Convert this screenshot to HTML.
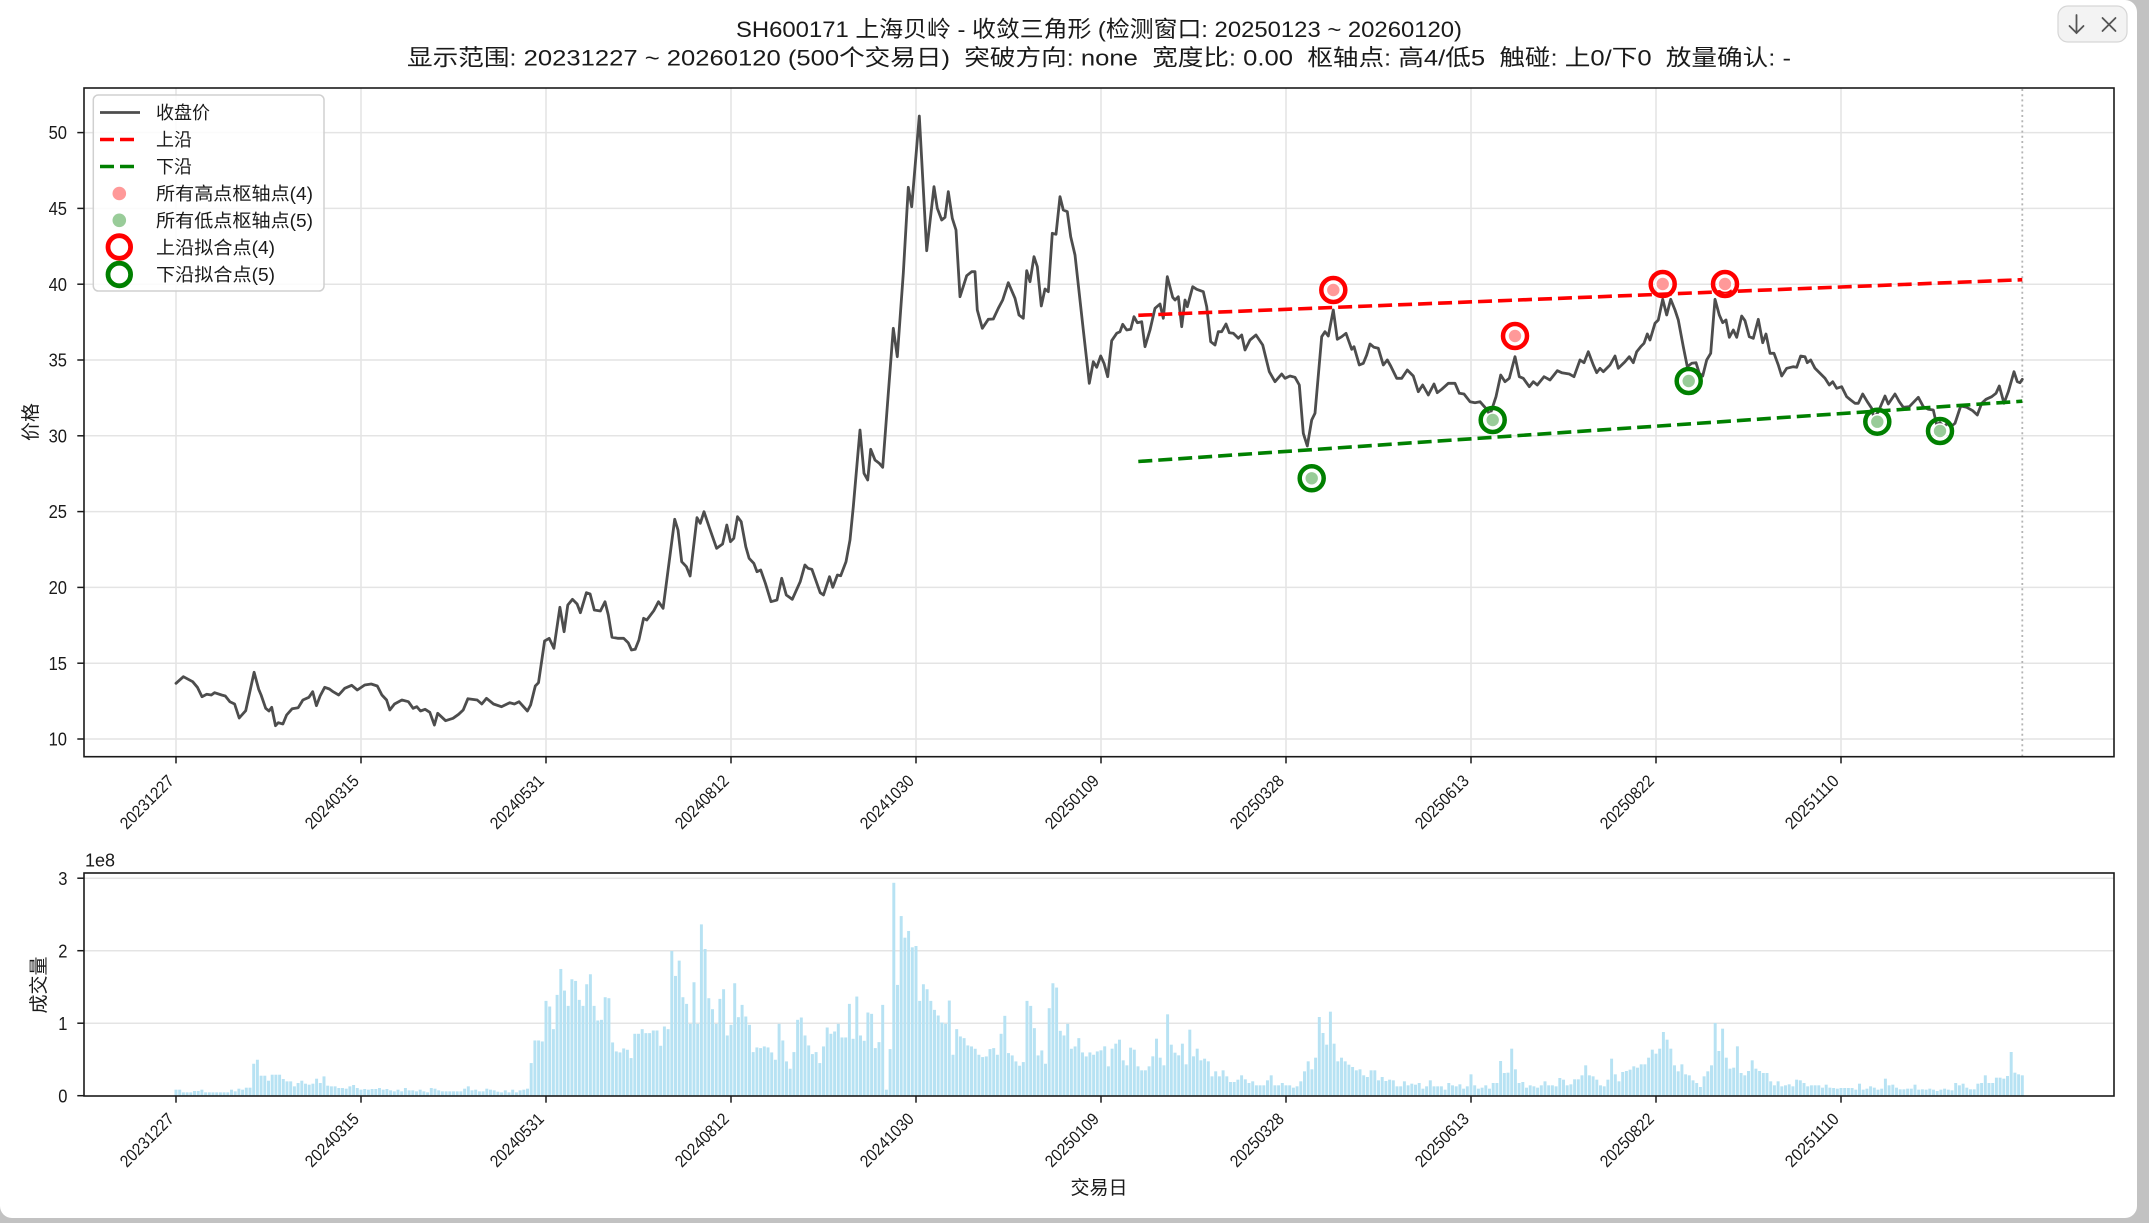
<!DOCTYPE html>
<html><head><meta charset="utf-8">
<style>
html,body{margin:0;padding:0;background:#c2c2c2;width:2149px;height:1223px;overflow:hidden}
#win{position:absolute;left:0;top:0;width:2137px;height:1218px;background:#fff;border-radius:0 12px 12px 12px}
svg{position:absolute;left:0;top:0}
text{font-family:"Liberation Sans","Noto Sans CJK SC",sans-serif;fill:#1a1a1a}
</style></head><body>
<div id="win"></div>
<svg id="s" width="2149" height="1223" viewBox="0 0 2149 1223" xmlns="http://www.w3.org/2000/svg">
<!-- top-right button -->
<rect x="2058" y="6" width="69" height="36" rx="10" ry="10" fill="#f3f3f3" stroke="#d6d6d6" stroke-width="1.2"/>
<g stroke="#555" stroke-width="1.8" fill="none" stroke-linecap="round">
<line x1="2076.5" y1="15" x2="2076.5" y2="33"/><polyline points="2069.5,26 2076.5,33 2083.5,26"/>
<line x1="2102.5" y1="18" x2="2115.5" y2="31"/><line x1="2115.5" y1="18" x2="2102.5" y2="31"/>
</g>

<!-- titles -->
<text x="736" y="37" font-size="22.5" textLength="726" lengthAdjust="spacingAndGlyphs" style="white-space:pre">SH600171 上海贝岭 - 收敛三角形 (检测窗口: 20250123 ~ 20260120)</text>
<text x="407" y="65.5" font-size="22.5" textLength="1384" lengthAdjust="spacingAndGlyphs" style="white-space:pre">显示范围: 20231227 ~ 20260120 (500个交易日)  突破方向: none  宽度比: 0.00  枢轴点: 高4/低5  触碰: 上0/下0  放量确认: -</text>

<g id="grid" stroke="#e4e4e4" stroke-width="1.5"></g>
<g id="bars" fill="#b7e2f3"></g>

<line x1="2022.3" y1="89" x2="2022.3" y2="756" stroke="#b4b4b4" stroke-width="1.8" stroke-dasharray="2,3.2"/>

<polyline fill="none" stroke="#4d4d4d" stroke-width="2.8" stroke-linejoin="round" stroke-linecap="round" points="176,683.3 183.4,676.7 192.7,681.7 197.4,687.3 202,696.7 206.7,694.3 211.3,695 214.6,692.7 221.6,695 225.3,696 229.9,701.7 234.6,704 239.2,718 245.7,710.7 254.1,672.3 258.7,689.3 261.1,695 265.7,708.3 269,711 271.7,707.3 275.5,725.7 278.3,722.7 282.9,724 286.6,715 292.2,708.7 298.2,707.7 302.9,700 308.9,697.3 312.7,691.7 316.4,705.7 320.1,696 324.7,687.3 329.4,689 333.1,691.7 338.7,695 344.7,688.3 351.7,685.3 357.3,690 364.7,685 371.2,684 377.3,686 381.9,695 386.6,700 389.8,710 394.5,704 401.9,700 408.4,701.7 413.1,708.3 416.8,706.7 420.5,711 425.1,709.3 429.8,712.3 434.4,725 437.7,713.3 445.6,720.7 453,718.3 458.6,714.3 463.2,710 467.9,698.7 477.2,700 481.8,704 486.5,698.3 493.5,704 501.4,706.7 509.7,702.7 514.4,704 519,701.7 527.4,711 530.6,705 535.3,686 538.5,682.7 544.6,641 549.2,638.3 553.9,648.3 559.9,607.3 564.1,631.7 567.8,605 572.5,599.3 577.1,604 580.4,612.7 586.4,592.7 590.1,594 594.3,610 600.4,611 605,601.7 608.3,615 612,637.3 617.6,638.3 623.6,638.3 628.2,642.7 631.5,650 635.2,649.3 638.9,640 643.6,618.3 646.8,620 653.8,610.7 658.5,601.7 663.1,608.3 674.7,519.3 678,530 681.7,561.7 686.4,566.7 690.1,576 697,517.7 700.3,523.3 704,511.7 709.6,528.3 716.6,548.3 722.6,544 726.8,525 730.5,541.7 733.8,538.3 737.5,516.7 741.2,521.7 745.8,546.7 749.1,558.3 753.8,563.3 757,571.7 760.7,570 765.4,583.3 771,601.7 777,600 781.7,578.3 786.3,595 792.3,599.3 800.2,581.7 804.9,565 808.1,568.3 811.9,569.3 820.2,592.7 823.5,595 829.5,576.7 832.8,587.3 837.4,575 840.7,575.7 846,561.7 850,540 853.3,506.7 860,430 864,473.3 867.7,480 870.7,449.3 875,460 879.3,463.3 882.7,467.3 888.3,393.3 893.3,328.3 897.3,356.7 903.3,273.3 908.3,187.3 911.7,206.7 919.3,116 926.7,250.7 934,186.7 937.3,208.3 941.7,220 945,217.3 948.3,191.7 952.3,218.3 956,230 960,296.7 966.7,275.7 971.7,271.7 975,271.7 977.3,310 982.3,328.3 988.3,319.3 993.3,319 998.3,308.3 1002.7,300 1008.3,282.7 1015,298.3 1019,315 1023.3,318.3 1026.7,270.7 1030,281.7 1034,256.7 1037.3,266.7 1041.3,306 1045,289 1048.3,291.7 1052.3,233.3 1056,234.3 1060,196.7 1063.3,210 1067.3,211.7 1070.7,236.7 1075,255 1083.3,330 1089.3,383.3 1093.3,361.7 1096.7,367.3 1100.7,356 1104,363.3 1107.7,376.7 1111.7,340.7 1116.7,333.3 1120,331.7 1122.7,324.3 1126.7,330 1130.7,329.3 1134,316.7 1137.3,322.7 1141.7,321.7 1145,346.7 1150,330 1155,308.3 1160,304 1163.3,318.3 1167.3,276.7 1172.7,297.3 1175,300 1178.3,296.7 1181.7,326.7 1185,300 1187.3,306.7 1192.7,286.7 1196.7,289.3 1203.3,291.7 1206.7,306.7 1210.7,341.7 1215,345 1218.3,331.7 1221.7,331.7 1226,324 1229.3,332.7 1233.3,333.3 1238.3,338.3 1241.7,335 1245,350 1250,340 1256,335 1262.7,345 1269.3,371.7 1275,381.7 1281.7,374 1285,378.3 1290,376 1295,377.3 1299.3,385 1303.3,433.3 1307.3,446 1311.7,420 1315,413.3 1321.7,336.7 1325,331.7 1328.3,336 1333.3,310 1337.3,339.3 1341.7,336.7 1346,333.3 1351.7,349.3 1354,346.7 1359.3,365 1363.3,363.3 1366.7,355 1370,344 1374,347.3 1378.3,348.3 1383.3,365 1387.3,360 1390.7,366 1396.7,378.3 1401.7,378.3 1407.3,370 1413.3,376 1418.3,391.7 1422.7,385 1428.3,395 1434,384 1437.3,392.7 1441.7,389.3 1448.3,383.3 1455,383.3 1459.3,393.3 1464,394 1470,401.7 1475,402.7 1480,401.7 1486.7,409.3 1490,415 1496,396.7 1500.7,375 1505,381.7 1509.3,378.3 1515,356.7 1519.3,376.7 1523.3,378.3 1529.3,386.7 1533.3,381.7 1537.3,385 1544,376.7 1550,380 1557.3,370.7 1561.7,372.7 1569.3,374 1574,376.7 1580,360 1584,362.7 1588.3,351.7 1593.3,365 1596.7,372.7 1600,368.3 1603.3,371.7 1610,365 1615,356 1618.3,368.3 1625,361.7 1629.3,356.7 1633.3,362.7 1636.7,351.7 1640.7,346.7 1644,343.3 1647.3,334 1650,340 1655,323.3 1658.3,320 1662.7,299.3 1666.7,315 1670.7,299.3 1675,310 1678.3,320 1683.3,346.7 1687.3,366.7 1691.7,363.3 1696,362.7 1699.3,373.3 1702.7,376 1706.7,360 1710.7,353.3 1715,299.3 1719.3,315 1722.7,322.7 1726,320 1729.3,337.3 1733.3,330 1736.7,337.3 1741.7,316 1745,320.7 1749.3,336.7 1753.3,338.3 1758.3,319.3 1762.7,342.7 1766,334 1770,353.3 1774,353.3 1778.3,365 1781.7,376 1786.7,368.3 1793.3,366.7 1796.7,367.3 1800.7,356 1805,356.7 1807.3,362.7 1810.7,360 1815,368.3 1820,373.3 1825,378.3 1829.3,385 1832.7,381.7 1836.7,388.3 1841.7,386.7 1846.7,396.7 1850.7,400 1855,403.3 1858.3,403.3 1862.7,394 1867.3,401.7 1871.7,408.3 1874,418.3 1878.3,411.7 1885,396 1888.3,404 1895,394 1899.3,401.7 1903.3,407.3 1909.3,406.7 1918.3,397.3 1923.3,406.7 1928.3,409.3 1933.3,410 1936.7,425 1940,422.7 1944,426.7 1947.3,423.3 1950.7,426.7 1955,423.3 1960.7,406 1966.7,407.3 1972.7,410.7 1977.3,415 1981.7,403.3 1986,399.3 1991.7,396.7 1996,393.3 1999.3,386 2004,403.3 2008.3,391.7 2014,371.7 2017.3,381.7 2020,382.7 2022.3,379.3"/>

<line x1="1138.3" y1="315.3" x2="2022.3" y2="279.7" stroke="#ff0000" stroke-width="3.6" stroke-dasharray="14,6"/>
<line x1="1138.3" y1="461.5" x2="2022.3" y2="401.2" stroke="#008000" stroke-width="3.6" stroke-dasharray="14,6"/>

<g fill="#ff9999" stroke="#ffffff" stroke-width="1.6">
<circle cx="1333.3" cy="290" r="7"/><circle cx="1515" cy="336" r="7"/><circle cx="1662.7" cy="284" r="7"/><circle cx="1725" cy="284" r="7"/>
</g>
<g fill="#99cc99" stroke="#ffffff" stroke-width="1.6">
<circle cx="1311.7" cy="478.3" r="7"/><circle cx="1492.7" cy="420" r="7"/><circle cx="1688.7" cy="381" r="7"/><circle cx="1877.3" cy="421.7" r="7"/><circle cx="1940" cy="431" r="7"/>
</g>
<g fill="none" stroke="#ff0000" stroke-width="4.5">
<circle cx="1333.3" cy="290" r="12"/><circle cx="1515" cy="336" r="12"/><circle cx="1662.7" cy="284" r="12"/><circle cx="1725" cy="284" r="12"/>
</g>
<g fill="none" stroke="#008000" stroke-width="4.5">
<circle cx="1311.7" cy="478.3" r="12"/><circle cx="1492.7" cy="420" r="12"/><circle cx="1688.7" cy="381" r="12"/><circle cx="1877.3" cy="421.7" r="12"/><circle cx="1940" cy="431" r="12"/>
</g>

<!-- axes frames -->
<rect x="84" y="88" width="2030" height="668.7" fill="none" stroke="#1a1a1a" stroke-width="1.6"/>
<rect x="84" y="873" width="2030" height="223" fill="none" stroke="#1a1a1a" stroke-width="1.6"/>
<g id="ticks" stroke="#1a1a1a" stroke-width="1.5"></g>
<g id="labels" font-size="18.5"></g>

<!-- legend -->
<rect x="93.3" y="95" width="230.7" height="196" rx="5" ry="5" fill="#ffffff" fill-opacity="0.85" stroke="#d0d0d0" stroke-width="1.5"/>
<line x1="100" y1="112.5" x2="140" y2="112.5" stroke="#4d4d4d" stroke-width="2.8"/>
<line x1="100" y1="139.5" x2="140" y2="139.5" stroke="#ff0000" stroke-width="3.6" stroke-dasharray="14,6"/>
<line x1="100" y1="166.5" x2="140" y2="166.5" stroke="#008000" stroke-width="3.6" stroke-dasharray="14,6"/>
<circle cx="119.3" cy="193.5" r="6.8" fill="#ff9999"/>
<circle cx="119.3" cy="220.3" r="6.8" fill="#99cc99"/>
<circle cx="119.3" cy="247" r="11.3" fill="none" stroke="#ff0000" stroke-width="4.8"/>
<circle cx="119.3" cy="274.5" r="11.3" fill="none" stroke="#008000" stroke-width="4.8"/>
<g font-size="18">
<text x="156" y="119">收盘价</text>
<text x="156" y="146">上沿</text>
<text x="156" y="173">下沿</text>
<text x="156" y="200" textLength="157" lengthAdjust="spacingAndGlyphs">所有高点枢轴点(4)</text>
<text x="156" y="227" textLength="157" lengthAdjust="spacingAndGlyphs">所有低点枢轴点(5)</text>
<text x="156" y="254" textLength="119" lengthAdjust="spacingAndGlyphs">上沿拟合点(4)</text>
<text x="156" y="281" textLength="119" lengthAdjust="spacingAndGlyphs">下沿拟合点(5)</text>
</g>

<!-- axis labels -->
<text x="0" y="0" font-size="19" text-anchor="middle" transform="translate(37,422) rotate(-90)">价格</text>
<text x="0" y="0" font-size="19" text-anchor="middle" transform="translate(45,985) rotate(-90)">成交量</text>
<text x="1099" y="1194" font-size="19" text-anchor="middle">交易日</text>
<text x="85" y="866.5" font-size="18">1e8</text>
</svg>

<script>
(function(){
const NS='http://www.w3.org/2000/svg';
function el(tag,attrs,parent,txt){const e=document.createElementNS(NS,tag);for(const k in attrs)e.setAttribute(k,attrs[k]);if(txt!=null)e.textContent=txt;parent.appendChild(e);return e;}
const grid=document.getElementById('grid'),ticks=document.getElementById('ticks'),labels=document.getElementById('labels'),bars=document.getElementById('bars');
const xs=[176,361,546,731,916,1101,1286,1471,1656,1841];
const xl=['20231227','20240315','20240531','20240812','20241030','20250109','20250328','20250613','20250822','20251110'];
function yv(v){return 739-(v-10)*15.16;}
xs.forEach(x=>el('line',{x1:x,y1:88,x2:x,y2:756.7},grid));
for(let v=10;v<=50;v+=5){const y=yv(v);el('line',{x1:84,y1:y,x2:2114,y2:y},grid);}
[1023.2,950.7,878.2].forEach(y=>el('line',{x1:84,y1:y,x2:2114,y2:y},grid));
xs.forEach(x=>{el('line',{x1:x,y1:756.7,x2:x,y2:763.4},ticks);el('line',{x1:x,y1:1096,x2:x,y2:1102.7},ticks);});
for(let v=10;v<=50;v+=5){const y=yv(v);el('line',{x1:77.3,y1:y,x2:84,y2:y},ticks);
  el('text',{x:67,y:y+6.6,'text-anchor':'end',textLength:18.4,lengthAdjust:'spacingAndGlyphs'},labels,String(v));}
[[0,1095.7],[1,1023.2],[2,950.7],[3,878.2]].forEach(([v,y])=>{el('line',{x1:77.3,y1:y,x2:84,y2:y},ticks);
  el('text',{x:67.5,y:y+6.6,'text-anchor':'end',textLength:9.2,lengthAdjust:'spacingAndGlyphs'},labels,String(v));});
xs.forEach((x,i)=>{
  el('text',{x:0,y:0,'text-anchor':'end','font-size':17,textLength:68,lengthAdjust:'spacingAndGlyphs',transform:'translate('+(x-1)+',782) rotate(-45)'},labels,xl[i]);
  el('text',{x:0,y:0,'text-anchor':'end','font-size':17,textLength:68,lengthAdjust:'spacingAndGlyphs',transform:'translate('+(x-1)+',1120) rotate(-45)'},labels,xl[i]);
});
const z11=[[18,660],[30,668],[45,664],[55,660],[65,668],[75,668],[85,668],[95,668],[105,660],[112,665],[118,657],[125,660],[132,654],[142,582],[148,570],[155,618],[162,618],[168,633],[175,615],[180,615],[186,615],[192,628],[198,635],[205,635],[212,650],[218,640],[225,633],[232,642],[238,645],[244,642],[250,627],[256,640],[262,620],[268,648],[275,650],[281,650],[287,655],[293,655],[299,657],[305,650],[311,646],[317,655],[322,660],[330,658],[336,660],[342,658],[350,658],[356,655],[362,660],[370,658],[376,662],[380,665],[387,660],[392,665],[398,655],[405,662],[412,662],[420,665],[425,660],[432,665],[437,668],[442,655],[448,657],[455,662],[462,665],[468,665],[474,665],[480,665],[486,665],[492,665],[500,657],[503,650],[510,662],[518,660],[522,665],[530,665],[535,657],[542,660],[550,662],[556,666],[560,668],[566,662],[570,666],[575,668],[580,660],[586,668],[592,662],[598,660],[606,657],[614,580],[620,512],[627,515],[633,393],[640,410],[646,478],[652,375],[658,297],[665,362],[671,408],[677,328],[683,333],[689,390],[695,460],[701,408],[707,343],[710,313],[716,408],[719,455],[724,452],[730,450],[734,382],[740,385],[746,518],[752,545],[758,548],[764,536],[770,540],[777,565],[783,492],[789,492],[795,401],[800,478],[806,490],[812,490],[818,482],[824,482],[830,528],[836,470],[842,478],[850,243],[856,318],[862,272],[868,382],[874,402],[880,462],[884,337],[890,462],[896,163],[902,237],[908,385],[914,418],[920,462],[926,497],[932,387],[938,358],[943,497],[949,465],[955,340],[961,442],[967,405],[973,440],[979,465],[984,547],[990,533],[996,535],[1002,530],[1008,533],[1014,548],[1020,570],[1026,553],[1031,462],[1037,512],[1043,575],[1050,597],[1056,547],[1062,450],[1068,443],[1074,497],[1080,527],[1086,553],[1092,547],[1098,580],[1104,530],[1110,473],[1116,492],[1122,485],[1128,462],[1134,503],[1140,503],[1146,402],[1152,507],[1158,380],[1162,270],[1168,497],[1174,513],[1180,428],[1186,432],[1192,535],[1198,517],[1204,405],[1212,660],[1218,538],[1224,38],[1230,345],[1236,138],[1242,203],[1248,183],[1254,232],[1260,228],[1266,393],[1272,343],[1278,358],[1284,393],[1290,420],[1296,437],[1302,458],[1308,462],[1314,392],[1318,513],[1324,555],[1330,478],[1336,500],[1342,505],[1348,527],[1354,530],[1360,537],[1366,555],[1372,562],[1378,560],[1384,538],[1390,535],[1396,555],[1402,492],[1408,438],[1414,550],[1420,557],[1426,575],[1432,588],[1438,577],[1444,393],[1450,492],[1456,408],[1462,475],[1468,557],[1474,542],[1480,582],[1486,415],[1492,340],[1498,353],[1504,483],[1510,497],[1516,462],[1522,537],[1528,530],[1534,505],[1540,548],[1546,560],[1552,548],[1558,555],[1564,545]];
const z12=[[2,255],[8,240],[14,228],[20,288],[26,235],[32,220],[38,232],[44,208],[50,270],[56,285],[62,232],[68,238],[74,288],[80,300],[86,300],[92,288],[95,258],[101,205],[107,262],[113,285],[119,132],[125,223],[131,270],[137,247],[143,255],[149,220],[155,282],[161,178],[167,258],[173,235],[179,270],[185,265],[191,273],[197,318],[203,303],[209,318],[215,300],[221,318],[227,335],[233,335],[239,328],[245,315],[251,327],[257,338],[263,333],[269,345],[275,345],[281,345],[287,330],[293,315],[299,345],[305,345],[311,338],[317,348],[323,345],[329,345],[335,352],[341,348],[347,333],[353,303],[359,273],[365,297],[371,262],[377,140],[383,188],[389,223],[395,124],[401,220],[407,273],[413,262],[419,273],[425,283],[431,290],[437,300],[443,297],[449,315],[455,320],[461,300],[467,300],[473,330],[479,320],[485,332],[491,328],[497,330],[503,345],[509,348],[515,348],[521,333],[527,345],[533,340],[539,343],[545,338],[551,355],[557,348],[563,330],[569,348],[575,348],[581,348],[587,358],[593,338],[599,345],[605,348],[611,342],[617,355],[623,348],[629,312],[635,345],[641,355],[647,352],[653,345],[659,355],[665,338],[671,338],[677,272],[683,308],[689,325],[695,307],[701,235],[707,297],[713,338],[719,335],[725,352],[731,345],[737,348],[743,352],[749,345],[755,333],[761,345],[767,345],[773,348],[777,323],[783,328],[789,345],[795,342],[801,327],[807,327],[813,297],[819,315],[825,285],[831,315],[837,318],[843,328],[849,345],[855,348],[861,328],[867,265],[873,312],[879,333],[885,305],[891,302],[897,298],[903,288],[909,292],[915,282],[921,282],[927,262],[933,238],[939,250],[945,235],[951,185],[957,208],[963,235],[969,285],[975,303],[981,282],[987,312],[993,315],[999,330],[1005,330],[1011,338],[1017,350],[1023,318],[1029,303],[1035,285],[1041,158],[1047,242],[1053,175],[1059,262],[1065,295],[1071,292],[1077,228],[1083,308],[1089,315],[1095,302],[1101,270],[1107,295],[1113,302],[1119,308],[1125,308],[1131,333],[1137,345],[1143,333],[1149,348],[1155,345],[1161,342],[1167,348],[1173,328],[1179,322],[1185,330],[1191,338],[1197,348],[1203,345],[1209,345],[1215,345],[1221,352],[1227,343],[1233,352],[1239,353],[1245,355],[1251,353],[1257,353],[1263,353],[1269,353],[1275,358],[1281,340],[1287,358],[1293,355],[1299,348],[1305,352],[1311,358],[1317,355],[1323,325],[1329,345],[1335,343],[1341,352],[1347,357],[1353,357],[1359,355],[1365,357],[1371,355],[1377,343],[1383,358],[1389,357],[1395,358],[1401,355],[1407,358],[1413,362],[1419,358],[1425,355],[1431,358],[1437,360],[1443,338],[1449,345],[1455,340],[1461,352],[1467,357],[1473,357],[1479,340],[1485,338],[1491,315],[1497,338],[1503,338],[1509,322],[1515,322],[1521,325],[1527,317],[1533,245],[1539,307],[1545,312],[1551,315]];
const S=[];
z11.forEach(p=>S.push([176+(p[0]-12)/1.686,(679-p[1])*0.3326]));
z12.forEach(p=>S.push([1101+(p[0]-10)/1.676,(377-p[1])/3]));
for(let i=0;i<500;i++){const xc=176+3.7*i;let best=S[0],bd=1e9;for(const s of S){const d=Math.abs(s[0]-xc);if(d<bd){bd=d;best=s;}}
  const h=Math.max(0.6,best[1]);el('rect',{x:(xc-1.48).toFixed(2),y:(1096-h).toFixed(2),width:2.96,height:h.toFixed(2)},bars);}
})();
</script>
</body></html>
